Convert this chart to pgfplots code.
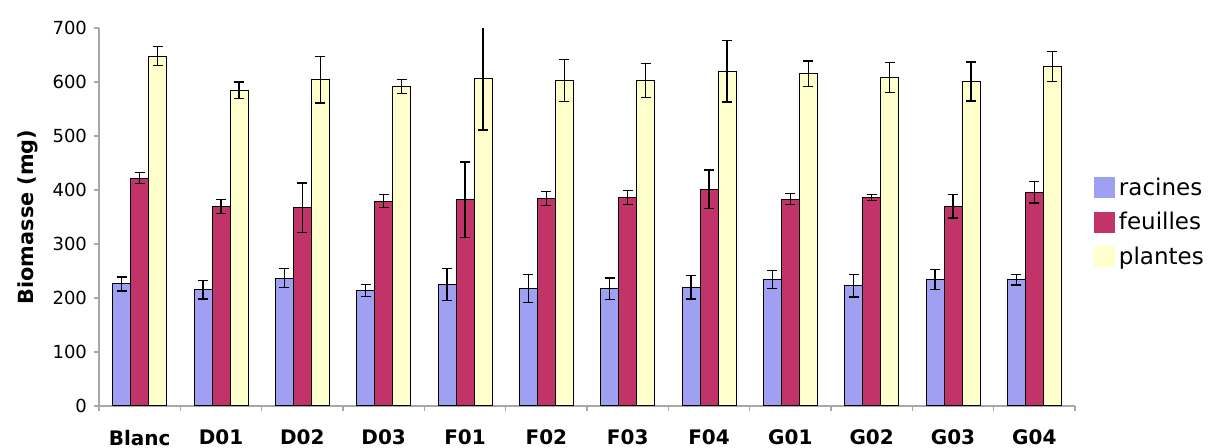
\documentclass[border=0pt]{standalone}
\usepackage{pgfplots}
\usepackage{pgfplotstable}
\pgfplotsset{compat=1.18}
\usepackage{fontspec}
\setmainfont{DejaVu Sans}
\definecolor{rac}{HTML}{A0A0F2}
\definecolor{feu}{HTML}{C2336A}
\definecolor{pla}{HTML}{FFFFCC}
\definecolor{axgray}{HTML}{A8A8A8}

\pgfplotstableread{
x rac racerr feu feuerr pla plaerr
0 226 13 422 10 648 18
1 215 17 370 13 585 15
2 237 17 367 46 604 43
3 214 11 379 12 592 13
4 225 29 382 70 606 95
5 218 26 384 13 603 39
6 217 20 386 13 603 31
7 220 22 401 36 620 57
8 234 17 383 10 615 24
9 223 21 386 6 608 28
10 234 19 370 22 601 36
11 234 10 396 20 629 28
}\data

\pgfplotsset{myerr/.style={
    error bars/.cd, y dir=both, y explicit,
    error bar style={black, line width=0.6pt},
    error mark options={rotate=90, mark size=2.5pt, black, line width=0.6pt}}}

\begin{document}
\begin{tikzpicture}
\path[use as bounding box] (0,0) rectangle (607pt,224pt);
\begin{axis}[
  at={(49.5pt,21pt)}, anchor=south west,
  scale only axis, width=488pt, height=189pt,
  xmin=-0.5, xmax=11.5, ymin=0, ymax=700,
  ybar=0pt, bar width=9pt,
  axis lines*=left,
  axis line style={axgray, line width=0.6pt},
  xtick={0,...,11},
  xticklabels={Blanc,D01,D02,D03,F01,F02,F03,F04,G01,G02,G03,G04},
  minor xtick={-0.5,0.5,...,11.5},
  ytick={0,100,...,700},
  tick align=outside,
  major tick length=2.5pt,
  minor tick length=2.5pt,
  x tick style={draw=none},
  minor x tick style={draw=axgray, line width=0.6pt},
  y tick style={axgray, line width=0.6pt},
  xticklabel style={font=\fontsize{10}{12}\bfseries\selectfont, yshift=-6pt},
  yticklabel style={font=\fontsize{9}{11}\selectfont},
  /pgf/number format/assume math mode=true,
  ylabel={Biomasse (mg)},
  ylabel style={font=\fontsize{10.4}{12}\bfseries\selectfont, at={(axis description cs:-0.0727,0.5)}, anchor=center},
  legend style={draw=none, fill=none, at={(1.019,0.615)}, anchor=north west,
    font=\fontsize{11.5}{13}\selectfont, row sep=3pt, inner sep=0pt,
    /tikz/every even column/.append style={column sep=3pt}},
  legend cell align=left,
  legend image code/.code={\fill[#1,draw=none] (0pt,-5pt) rectangle (10.5pt,5.5pt);},
]
\addplot[fill=rac, draw=black, line width=0.5pt, myerr] table[x=x, y=rac, y error=racerr]{\data};
\addplot[fill=feu, draw=black, line width=0.5pt, myerr] table[x=x, y=feu, y error=feuerr]{\data};
\addplot[fill=pla, draw=black, line width=0.5pt, myerr] table[x=x, y=pla, y error=plaerr]{\data};
\legend{racines,feuilles,plantes}
\end{axis}
\end{tikzpicture}
\end{document}
